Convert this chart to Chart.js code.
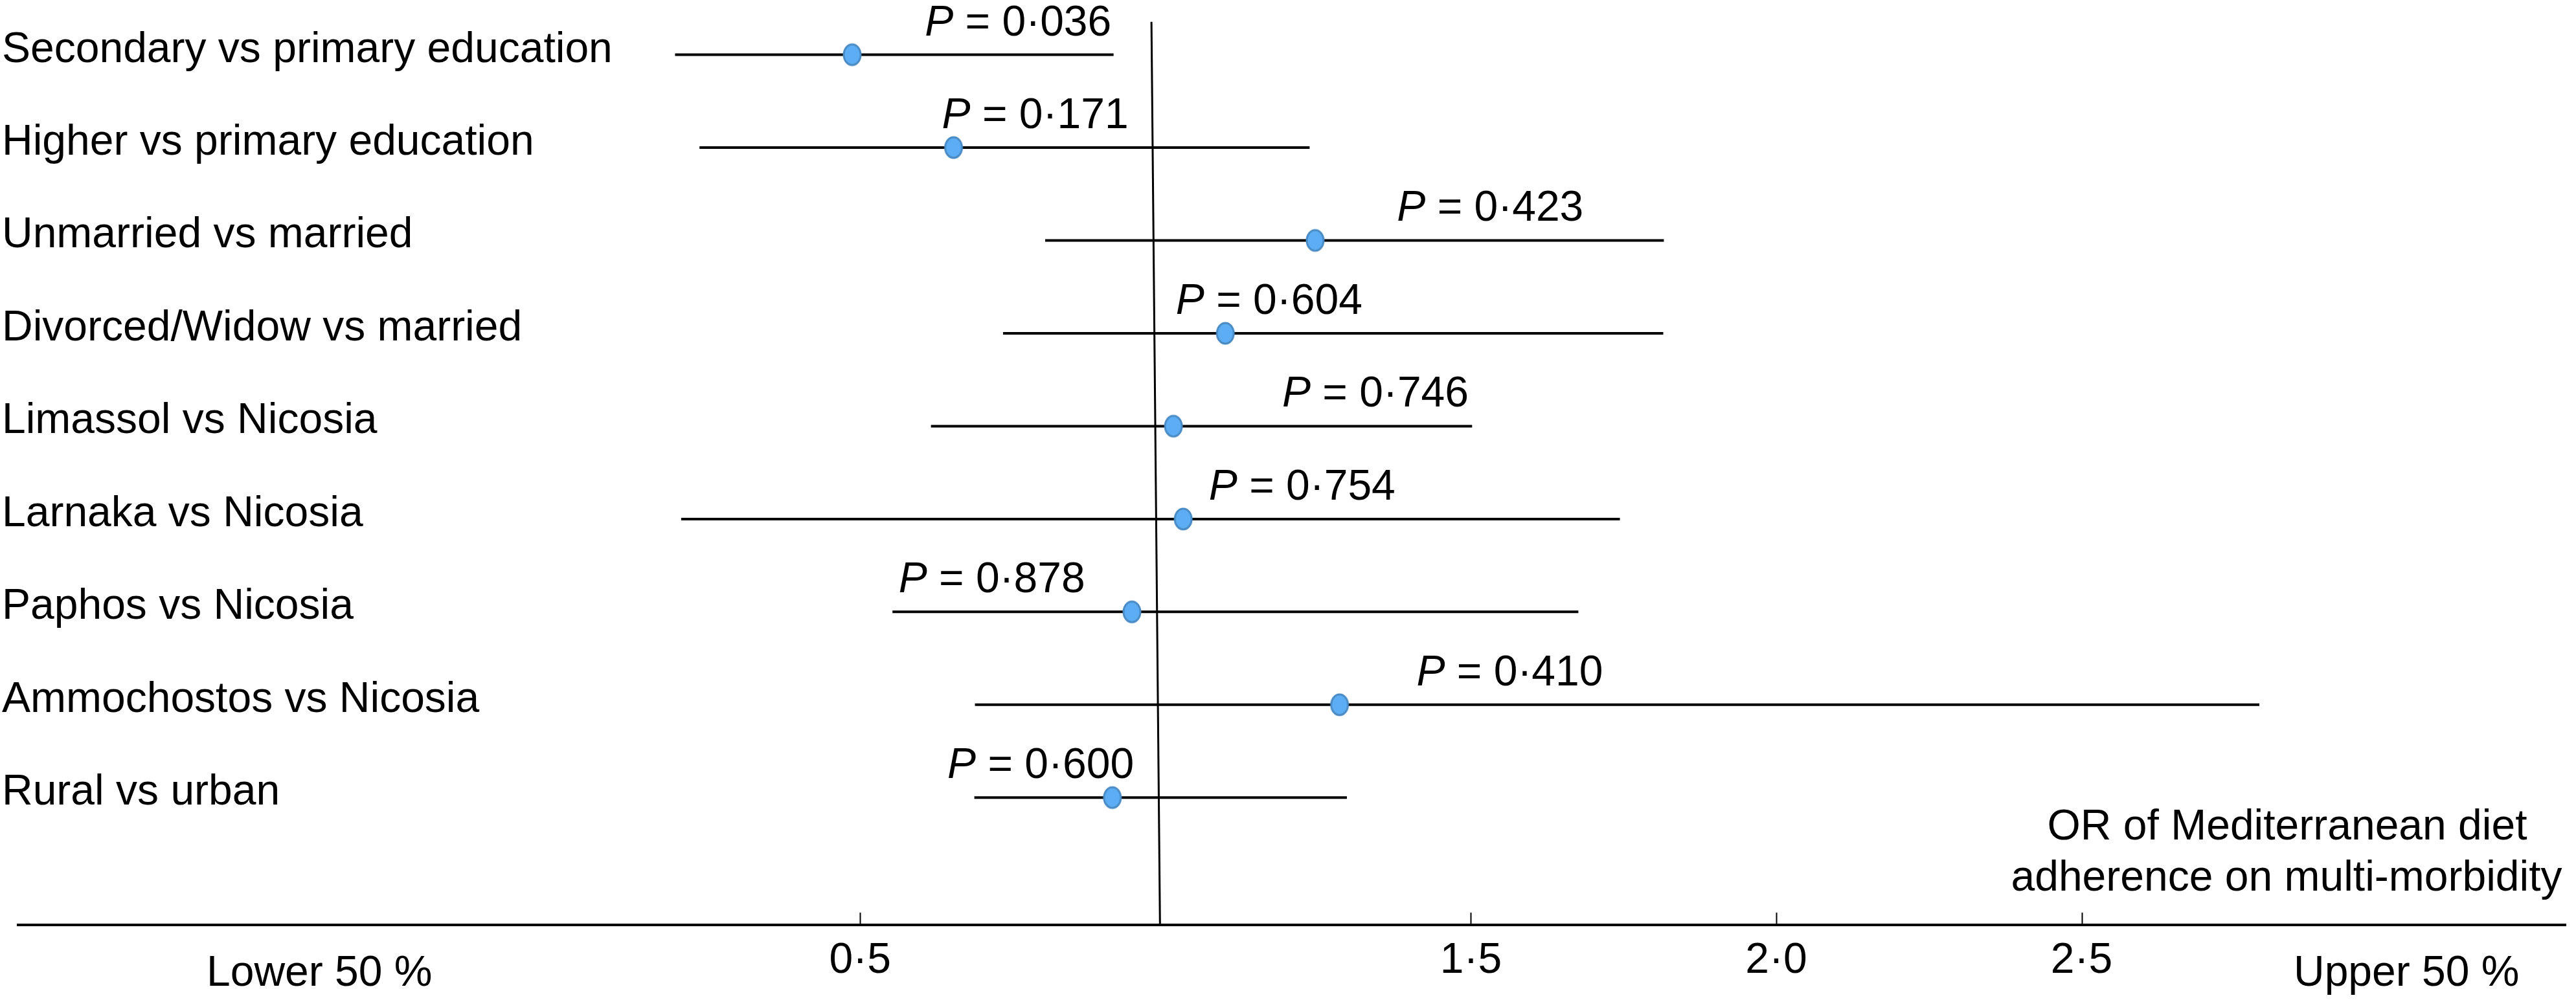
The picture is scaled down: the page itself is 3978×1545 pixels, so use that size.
<!DOCTYPE html>
<html>
<head>
<meta charset="utf-8"/>
<title>OR of Mediterranean diet adherence on multi-morbidity</title>
<script src="https://cdn.jsdelivr.net/npm/chart.js"></script>
<style>
  html, body { margin: 0; padding: 0; background: #fff; }
  #wrap { width: 3978px; height: 1545px; position: relative; }
</style>
</head>
<body>
<div id="wrap"><canvas id="forestChart"></canvas></div>
<script>
// rows, top to bottom
const categories = [
    'Secondary vs primary education',
    'Higher vs primary education',
    'Unmarried vs married',
    'Divorced/Widow vs married',
    'Limassol vs Nicosia',
    'Larnaka vs Nicosia',
    'Paphos vs Nicosia',
    'Ammochostos vs Nicosia',
    'Rural vs urban'
];
const oddsRatio = [0.487, 0.653, 1.245, 1.098, 1.013, 1.029, 0.945, 1.285, 0.913];
const lowerCI   = [0.197, 0.237, 0.803, 0.734, 0.616, 0.207, 0.553, 0.688, 0.687];
const upperCI   = [0.915, 1.236, 1.816, 1.815, 1.502, 1.744, 1.676, 2.791, 1.297];
const pValues   = ['0·036', '0·171', '0·423', '0·604', '0·746', '0·754', '0·878', '0·410', '0·600'];
const xTickValues = [0.5, 1.5, 2.0, 2.5];
const refLine = [0.977, 0.991];   // the OR = 1 line, as drawn (top, bottom)

document.addEventListener('DOMContentLoaded', function() {
    const FONT = '"Liberation Sans", Arial, sans-serif';
    const X_MIN = -0.8786, X_MAX = 3.2925;
    const Y_MIN = -0.4776, Y_MAX = 9.371;

    // where each P label starts, in OR units
    const pLabelAt = [0.606, 0.634, 1.379, 1.017, 1.191, 1.071, 0.563, 1.411, 0.643];

    // oval blue marker
    function makeMarker() {
        const c = document.createElement('canvas');
        c.width = 32; c.height = 38;
        const g = c.getContext('2d');
        g.beginPath();
        g.ellipse(16, 19, 13, 16, 0, 0, Math.PI * 2);
        g.fillStyle = '#5cadf3';
        g.fill();
        g.lineWidth = 3;
        g.strokeStyle = '#4a8bc4';
        g.stroke();
        return c;
    }

    const ciSets = categories.map((c, i) => ({
        type: 'line',
        label: c,
        data: [{x: lowerCI[i], y: i}, {x: upperCI[i], y: i}],
        borderColor: '#000',
        borderWidth: 4,
        pointRadius: 0,
        showLine: true,
        order: 1
    }));

    const refSet = {
        type: 'line',
        data: [{x: refLine[0], y: -0.354}, {x: refLine[1], y: Y_MAX}],
        borderColor: '#000',
        borderWidth: 3,
        pointRadius: 0,
        showLine: true,
        order: 2
    };

    const pointSet = {
        type: 'scatter',
        data: oddsRatio.map((v, i) => ({x: v, y: i})),
        pointStyle: makeMarker(),
        pointRadius: 15,
        order: 0
    };

    // text that sits around the plot
    const annotations = {
        id: 'annotations',
        afterDraw(chart) {
            const ctx = chart.ctx;
            const xs = chart.scales.x, ys = chart.scales.y;
            const area = chart.chartArea;
            ctx.save();
            ctx.fillStyle = '#000';
            ctx.textBaseline = 'alphabetic';

            // upward tick marks
            ctx.strokeStyle = '#000';
            ctx.lineWidth = 2;
            xs.ticks.forEach(t => {
                const px = Math.round(xs.getPixelForValue(t.value)) + 0.5;
                ctx.beginPath();
                ctx.moveTo(px, area.bottom - 19);
                ctx.lineTo(px, area.bottom);
                ctx.stroke();
            });

            ctx.font = '66px ' + FONT;
            ctx.textAlign = 'left';
            categories.forEach((c, i) => {
                ctx.fillText(c, 3, ys.getPixelForValue(i) + 11);
            });

            pValues.forEach((p, i) => {
                let x = xs.getPixelForValue(pLabelAt[i]);
                const y = ys.getPixelForValue(i) - 30;
                ctx.font = 'italic 66px ' + FONT;
                ctx.fillText('P', x, y);
                x += ctx.measureText('P').width;
                ctx.font = '66px ' + FONT;
                ctx.fillText(' = ' + p, x, y);
            });

            ctx.fillText('Lower 50 %', 319, area.bottom + 94);
            ctx.fillText('Upper 50 %', area.right - 420, area.bottom + 94);

            ctx.textAlign = 'center';
            ctx.fillText('OR of Mediterranean diet', area.right - 430, area.bottom - 132);
            ctx.fillText('adherence on multi-morbidity', area.right - 431, area.bottom - 53);
            ctx.restore();
        }
    };

    const ctx = document.getElementById('forestChart').getContext('2d');
    new Chart(ctx, {
        type: 'scatter',
        data: { datasets: [pointSet, ...ciSets, refSet] },
        options: {
            responsive: true,
            maintainAspectRatio: false,
            animation: false,
            layout: { padding: { left: 28, right: 0, top: 0, bottom: 0 } },
            plugins: {
                legend: { display: false },
                tooltip: { enabled: false }
            },
            scales: {
                x: {
                    type: 'linear',
                    min: X_MIN,
                    max: X_MAX,
                    afterBuildTicks: scale => {
                        scale.ticks = xTickValues.map(v => ({ value: v }));
                    },
                    afterFit: scale => { scale.height = 116; },
                    ticks: {
                        color: '#000',
                        padding: 16,
                        font: { size: 66, family: FONT },
                        callback: v => v.toFixed(1).replace('.', '·')
                    },
                    grid: { drawOnChartArea: false, drawTicks: false },
                    border: { display: true, color: '#000', width: 4 }
                },
                y: {
                    type: 'linear',
                    display: false,
                    reverse: true,
                    min: Y_MIN,
                    max: Y_MAX
                }
            }
        },
        plugins: [annotations]
    });
});
</script>
</body>
</html>
